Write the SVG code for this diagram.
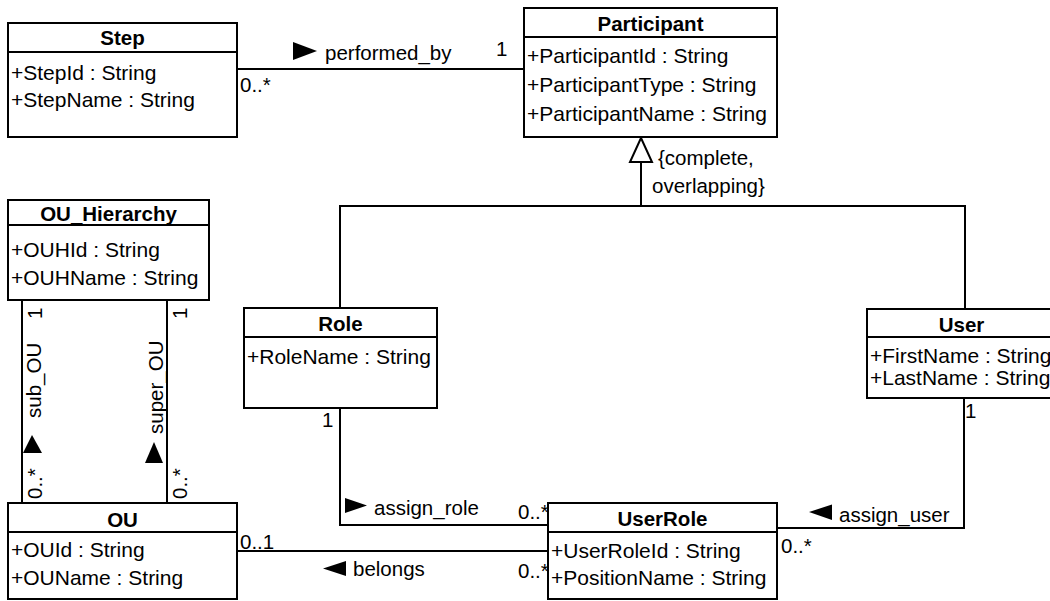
<svg xmlns="http://www.w3.org/2000/svg" width="1050" height="601" viewBox="0 0 1050 601">
  <style>
    .box{fill:#fff;stroke:#000;stroke-width:2}
    .sep{stroke:#000;stroke-width:2}
    .t{font-family:"Liberation Sans",Arial,sans-serif;font-size:20.5px;fill:#000}
    .a{font-size:21px}
    .h{font-weight:bold;text-anchor:middle}
    .ln{fill:none;stroke:#000;stroke-width:2}
    .ar{fill:#000;stroke:none}
    .gen{fill:#fff;stroke:#000;stroke-width:2}
  </style>
  <rect width="1050" height="601" fill="#fff"/>

  <!-- associations and generalization -->
  <g id="connectors">
    <!-- Step - Participant -->
    <line class="ln" x1="237" y1="69" x2="524" y2="69"/>
    <polygon class="ar" points="293,42 317,51 293,60"/>
    <text class="t" x="325" y="60">performed_by</text>
    <text class="t" x="496" y="56">1</text>
    <text class="t" x="240" y="92">0..*</text>

    <!-- generalization Role/User -> Participant -->
    <polyline class="ln" points="340,308 340,206 965,206 965,309"/>
    <line class="ln" x1="641" y1="162" x2="641" y2="206"/>
    <polygon class="gen" points="641,138 630,162 652,162"/>
    <text class="t" x="658" y="165">{complete,</text>
    <text class="t" x="652" y="193">overlapping}</text>

    <!-- OU_Hierarchy - OU : sub_OU -->
    <line class="ln" x1="22" y1="300" x2="22" y2="503"/>
    <text class="t" transform="translate(42,319) rotate(-90)">1</text>
    <text class="t" transform="translate(41,418) rotate(-90)">sub_OU</text>
    <polygon class="ar" points="32,435 23,453 42,453"/>
    <text class="t" transform="translate(42,499) rotate(-90)">0..*</text>

    <!-- OU_Hierarchy - OU : super_OU -->
    <line class="ln" x1="167" y1="300" x2="167" y2="503"/>
    <text class="t" transform="translate(187,319) rotate(-90)">1</text>
    <text class="t" transform="translate(163,434) rotate(-90)">super_OU</text>
    <polygon class="ar" points="154,442 145,463 163,463"/>
    <text class="t" transform="translate(187,499) rotate(-90)">0..*</text>

    <!-- Role - UserRole -->
    <polyline class="ln" points="340,408 340,525 548,525"/>
    <polygon class="ar" points="345,498 367,505.5 345,513"/>
    <text class="t" x="374" y="515">assign_role</text>
    <text class="t" x="322" y="427">1</text>
    <text class="t" x="518" y="519">0..*</text>

    <!-- User - UserRole -->
    <polyline class="ln" points="964,398 964,528 777,528"/>
    <polygon class="ar" points="809,512 832,504.5 832,520"/>
    <text class="t" x="839" y="522">assign_user</text>
    <text class="t" x="965" y="418">1</text>
    <text class="t" x="781" y="553">0..*</text>

    <!-- OU - UserRole -->
    <line class="ln" x1="237" y1="551" x2="548" y2="551"/>
    <polygon class="ar" points="323,568.5 346,561 346,576"/>
    <text class="t" x="353" y="576">belongs</text>
    <text class="t" x="240" y="549">0..1</text>
    <text class="t" x="518" y="578">0..*</text>
  </g>

  <!-- classes -->
  <g id="Step">
    <rect class="box" x="8" y="23" width="229" height="114"/>
    <line class="sep" x1="8" y1="52" x2="237" y2="52"/>
    <text class="t h" x="122.5" y="45">Step</text>
    <text class="t a" x="11" y="80">+StepId : String</text>
    <text class="t a" x="11" y="107">+StepName : String</text>
  </g>

  <g id="Participant">
    <rect class="box" x="524" y="8" width="253" height="129"/>
    <line class="sep" x1="524" y1="37" x2="777" y2="37"/>
    <text class="t h" x="650.5" y="31">Participant</text>
    <text class="t a" x="527" y="63">+ParticipantId : String</text>
    <text class="t a" x="527" y="92">+ParticipantType : String</text>
    <text class="t a" x="527" y="121">+ParticipantName : String</text>
  </g>

  <g id="OU_Hierarchy">
    <rect class="box" x="8" y="200" width="201" height="100"/>
    <line class="sep" x1="8" y1="225" x2="209" y2="225"/>
    <text class="t h" x="108.5" y="221">OU_Hierarchy</text>
    <text class="t a" x="11" y="257">+OUHId : String</text>
    <text class="t a" x="11" y="285">+OUHName : String</text>
  </g>

  <g id="Role">
    <rect class="box" x="244" y="308" width="193" height="100"/>
    <line class="sep" x1="244" y1="337" x2="437" y2="337"/>
    <text class="t h" x="340.5" y="331">Role</text>
    <text class="t a" x="247" y="364">+RoleName : String</text>
  </g>

  <g id="User">
    <rect class="box" x="867" y="309" width="190" height="89"/>
    <line class="sep" x1="867" y1="337" x2="1057" y2="337"/>
    <text class="t h" x="961.5" y="332">User</text>
    <text class="t a" x="870" y="363">+FirstName : String</text>
    <text class="t a" x="870" y="385">+LastName : String</text>
  </g>

  <g id="OU">
    <rect class="box" x="8" y="503" width="229" height="96"/>
    <line class="sep" x1="8" y1="532" x2="237" y2="532"/>
    <text class="t h" x="122.5" y="527">OU</text>
    <text class="t a" x="11" y="557">+OUId : String</text>
    <text class="t a" x="11" y="585">+OUName : String</text>
  </g>

  <g id="UserRole">
    <rect class="box" x="548" y="503" width="229" height="96"/>
    <line class="sep" x1="548" y1="532" x2="777" y2="532"/>
    <text class="t h" x="662.5" y="526">UserRole</text>
    <text class="t a" x="551" y="558">+UserRoleId : String</text>
    <text class="t a" x="551" y="585">+PositionName : String</text>
  </g>
</svg>
